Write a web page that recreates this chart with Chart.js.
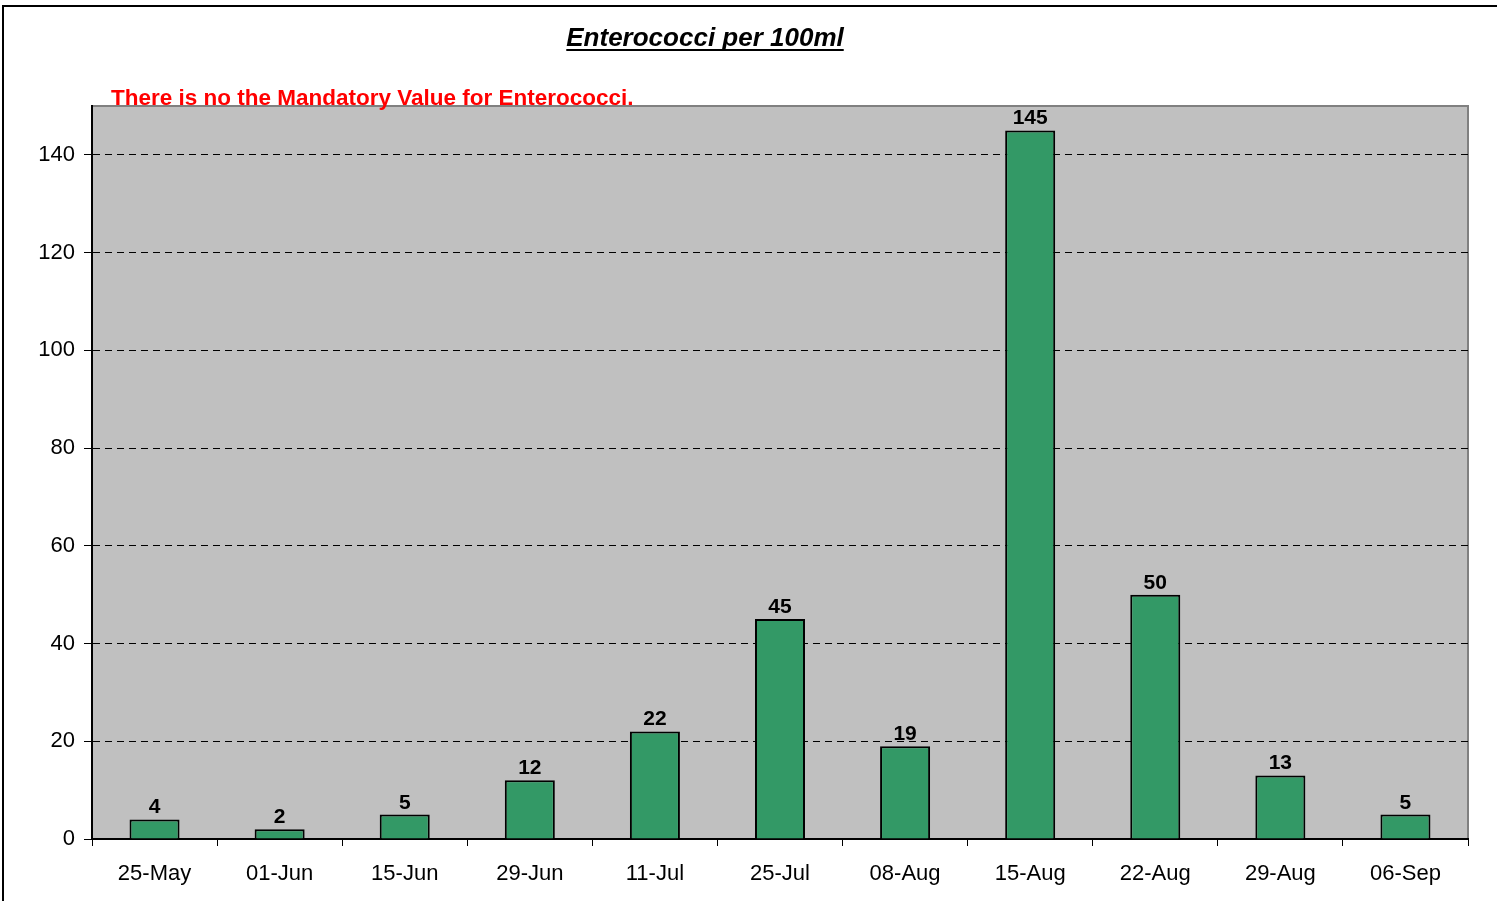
<!DOCTYPE html>
<html>
<head>
<meta charset="utf-8">
<script src="https://cdn.jsdelivr.net/npm/chart.js@4"></script>
<style>
    html, body { margin: 0; padding: 0; background: #fff; overflow: hidden; }
    #wrap { position: relative; width: 1497px; height: 901px; }
    #frame { position: absolute; left: 2px; top: 5px; width: 1600px; height: 1000px; border-left: 2px solid #000; border-top: 2px solid #000; pointer-events: none; }
</style>
</head>
<body>
<div id="wrap">
    <canvas id="enteroChart" width="1497" height="901"></canvas>
    <div id="frame"></div>
</div>
<script>
// sample dates and counts per 100ml
const dates = ["25-May", "01-Jun", "15-Jun", "29-Jun", "11-Jul", "25-Jul", "08-Aug", "15-Aug", "22-Aug", "29-Aug", "06-Sep"];
const counts = [4, 2, 5, 12, 22, 45, 19, 145, 50, 13, 5];
const yTicks = [0, 20, 40, 60, 80, 100, 120, 140];

const titleText = "Enterococci per 100ml";
const noteText = "There is no the Mandatory Value for Enterococci.";

const FONT = "'Liberation Sans', Arial, sans-serif";

// ------------------------
// plot background + border, title, note, value labels
// ------------------------
const decorPlugin = {
    id: "decor",
    beforeDraw(chart) {
        const { ctx, chartArea: a } = chart;
        ctx.save();
        ctx.fillStyle = "#c0c0c0";
        ctx.fillRect(a.left, a.top, a.right - a.left, a.bottom - a.top);
        ctx.strokeStyle = "#808080";
        ctx.lineWidth = 2;
        ctx.beginPath();
        ctx.moveTo(a.left, a.top);
        ctx.lineTo(a.right, a.top);
        ctx.lineTo(a.right, a.bottom);
        ctx.stroke();
        ctx.restore();
    },
    afterDraw(chart) {
        const { ctx } = chart;
        ctx.save();

        // title, underlined
        ctx.font = "italic bold 26px " + FONT;
        ctx.fillStyle = "#000";
        ctx.textAlign = "center";
        ctx.textBaseline = "alphabetic";
        const tx = 705, ty = 46;
        ctx.fillText(titleText, tx, ty);
        const w = ctx.measureText(titleText).width;
        ctx.fillRect(tx - w / 2, ty + 3, w, 2);

        // red note
        ctx.font = "bold 22.5px " + FONT;
        ctx.fillStyle = "#ff0000";
        ctx.textAlign = "left";
        ctx.fillText(noteText, 111, 105);

        // value labels over bars
        ctx.font = "bold 21px " + FONT;
        ctx.fillStyle = "#000";
        ctx.textAlign = "center";
        ctx.textBaseline = "alphabetic";
        const meta = chart.getDatasetMeta(0);
        meta.data.forEach((bar, i) => {
            ctx.fillText(String(counts[i]), bar.x, bar.y - 6);
        });
        ctx.restore();
    }
};

const chart = new Chart(document.getElementById("enteroChart").getContext("2d"), {
    type: "bar",
    data: {
        labels: dates,
        datasets: [{
            data: counts,
            backgroundColor: "#339966",
            borderColor: "#000",
            borderWidth: 2,
            borderSkipped: "bottom",
            barPercentage: 0.8,
            categoryPercentage: 0.5
        }]
    },
    options: {
        responsive: false,
        animation: false,
        events: [],
        layout: { padding: { top: 106, right: 29, left: 0, bottom: 0 } },
        plugins: {
            legend: { display: false },
            title: { display: false },
            tooltip: { enabled: false }
        },
        scales: {
            x: {
                grid: {
                    offset: true,
                    drawOnChartArea: false,
                    drawTicks: true,
                    tickLength: 7,
                    color: "#000",
                    lineWidth: 1
                },
                border: { display: true, color: "#000", width: 2 },
                ticks: {
                    color: "#000",
                    font: { family: FONT, size: 22 },
                    padding: 15,
                    maxRotation: 0,
                    autoSkip: false
                },
                afterFit(scale) { scale.height = 62; }
            },
            y: {
                min: 0,
                max: 150,
                afterBuildTicks(scale) {
                    scale.ticks = yTicks.map(v => ({ value: v }));
                },
                grid: {
                    color: (c) => (c.tick && c.tick.value === 0) ? "rgba(0,0,0,0)" : "#000",
                    lineWidth: 1,
                    drawTicks: true,
                    tickLength: 8,
                    tickColor: "#000"
                },
                border: { display: true, color: "#000", width: 2, dash: [7, 5] },
                ticks: {
                    color: "#000",
                    font: { family: FONT, size: 22 },
                    padding: 9
                },
                afterFit(scale) { scale.width = 92; }
            }
        }
    },
    plugins: [decorPlugin]
});
</script>
</body>
</html>
